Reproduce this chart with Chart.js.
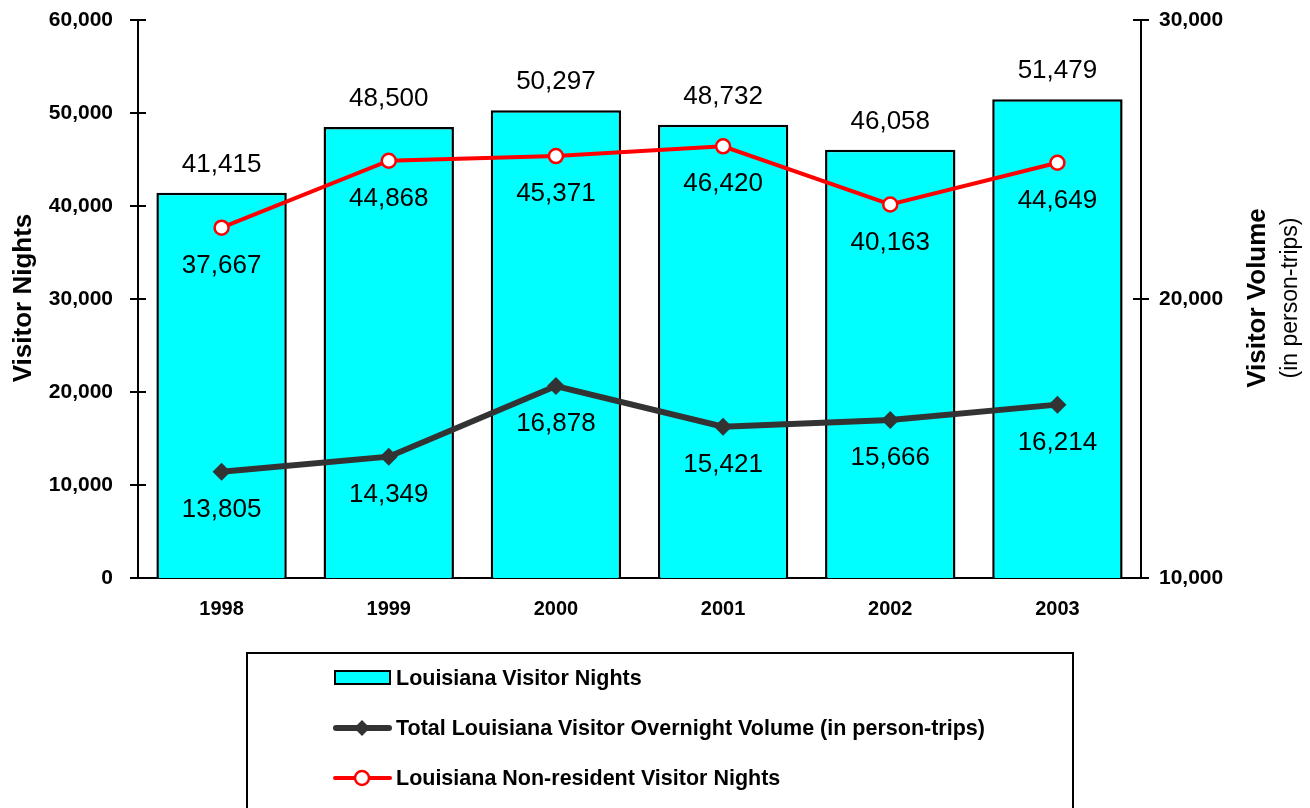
<!DOCTYPE html>
<html>
<head>
<meta charset="utf-8">
<title>Louisiana Visitor Nights</title>
<script src="https://cdn.jsdelivr.net/npm/chart.js@4/dist/chart.umd.min.js"></script>
<style>
  body { margin: 0; background: #fff; }
  canvas { display: block; }
</style>
</head>
<body>
<canvas id="myChart" width="1310" height="808"></canvas>
<script>
const years = ["1998", "1999", "2000", "2001", "2002", "2003"];
const visitorNights = [41415, 48500, 50297, 48732, 46058, 51479];
const overnightVolume = [13805, 14349, 16878, 15421, 15666, 16214];
const nonResidentNights = [37667, 44868, 45371, 46420, 40163, 44649];

const leftTicks = [0, 10000, 20000, 30000, 40000, 50000, 60000];
const rightTicks = [10000, 20000, 30000];

const legendNames = [
    "Louisiana Visitor Nights",
    "Total Louisiana Visitor Overnight Volume (in person-trips)",
    "Louisiana Non-resident Visitor Nights",
];

const FONT = "'Liberation Sans', Arial, sans-serif";
const graph = document.getElementById("myChart").getContext("2d");

function fmt(v) {
    return v.toLocaleString("en-US");
}

// tick marks that cross the axis line on both sides
const axisTicks = {
    id: "axisTicks",
    afterDraw(chart) {
        const ctx = chart.ctx;
        const area = chart.chartArea;
        ctx.save();
        ctx.strokeStyle = "#000";
        ctx.lineWidth = 2;
        [["y", area.left], ["y2", area.right]].forEach(([id, x]) => {
            const scale = chart.scales[id];
            scale.ticks.forEach((t) => {
                const y = Math.round(scale.getPixelForValue(t.value));
                ctx.beginPath();
                ctx.moveTo(x - 8, y);
                ctx.lineTo(x + 8, y);
                ctx.stroke();
            });
        });
        ctx.restore();
    },
};

// value labels on bars and line points
const valueLabels = {
    id: "valueLabels",
    afterDatasetsDraw(chart) {
        const ctx = chart.ctx;
        ctx.save();
        ctx.font = "26px " + FONT;
        ctx.fillStyle = "#000";
        ctx.textAlign = "center";
        ctx.textBaseline = "middle";
        chart.data.datasets.forEach((ds, i) => {
            const meta = chart.getDatasetMeta(i);
            meta.data.forEach((el, j) => {
                const dy = ds.type === "bar" ? -28 : 38;
                ctx.fillText(fmt(ds.data[j]), el.x, el.y + dy);
            });
        });
        ctx.restore();
    },
};

// axis titles and the boxed legend under the plot
const extras = {
    id: "extras",
    afterDraw(chart) {
        const ctx = chart.ctx;
        ctx.save();
        ctx.fillStyle = "#000";
        ctx.textAlign = "center";
        ctx.textBaseline = "middle";

        ctx.save();
        ctx.translate(24, 298);
        ctx.rotate(-Math.PI / 2);
        ctx.font = "bold 26px " + FONT;
        ctx.fillText("Visitor Nights", 0, 0);
        ctx.restore();

        ctx.save();
        ctx.translate(1258, 298);
        ctx.rotate(-Math.PI / 2);
        ctx.font = "bold 26px " + FONT;
        ctx.fillText("Visitor Volume", 0, 0);
        ctx.font = "23px " + FONT;
        ctx.fillText("(in person-trips)", 0, 33);
        ctx.restore();

        // legend frame (runs off the bottom edge)
        ctx.strokeStyle = "#000";
        ctx.lineWidth = 2;
        ctx.strokeRect(247, 653, 826, 170);

        const rows = [678, 728, 778];
        // bar swatch
        ctx.fillStyle = "#00ffff";
        ctx.fillRect(335, 671, 55, 13);
        ctx.strokeRect(335, 671, 55, 13);
        // dark line with diamond
        ctx.lineCap = "round";
        ctx.strokeStyle = "#333333";
        ctx.lineWidth = 6;
        ctx.beginPath();
        ctx.moveTo(336, rows[1]);
        ctx.lineTo(389, rows[1]);
        ctx.stroke();
        ctx.fillStyle = "#333333";
        ctx.beginPath();
        ctx.moveTo(362, rows[1] - 8);
        ctx.lineTo(370, rows[1]);
        ctx.lineTo(362, rows[1] + 8);
        ctx.lineTo(354, rows[1]);
        ctx.closePath();
        ctx.fill();
        // red line with hollow circle
        ctx.strokeStyle = "#ff0000";
        ctx.lineWidth = 4;
        ctx.beginPath();
        ctx.moveTo(335, rows[2]);
        ctx.lineTo(390, rows[2]);
        ctx.stroke();
        ctx.fillStyle = "#fff";
        ctx.lineWidth = 2.5;
        ctx.beginPath();
        ctx.arc(362, rows[2], 7, 0, Math.PI * 2);
        ctx.fill();
        ctx.stroke();

        ctx.fillStyle = "#000";
        ctx.font = "bold 21.5px " + FONT;
        ctx.textAlign = "left";
        legendNames.forEach((name, i) => {
            ctx.fillText(name, 396, rows[i] + 1);
        });
        ctx.restore();
    },
};

const tickFont = { family: FONT, size: 21, weight: "bold" };

// fixed axis sizes so the plot area sits at a known place
function fixY(width) {
    return (s) => {
        s.width = width;
        s.paddingTop = 0;
        s.paddingBottom = 0;
    };
}

const myChart = new Chart(graph, {
    type: "bar",
    data: {
        labels: years,
        datasets: [
            {
                type: "line",
                label: legendNames[2],
                data: nonResidentNights,
                yAxisID: "y",
                borderColor: "#ff0000",
                borderWidth: 4,
                pointStyle: "circle",
                pointRadius: 7,
                pointBackgroundColor: "#ffffff",
                pointBorderColor: "#ff0000",
                pointBorderWidth: 2.5,
                tension: 0,
                order: 1,
            },
            {
                type: "line",
                label: legendNames[1],
                data: overnightVolume,
                yAxisID: "y2",
                borderColor: "#333333",
                borderWidth: 6,
                pointStyle: "rectRot",
                pointRadius: 9,
                pointBackgroundColor: "#333333",
                pointBorderWidth: 0,
                tension: 0,
                order: 2,
            },
            {
                type: "bar",
                label: legendNames[0],
                data: visitorNights,
                yAxisID: "y",
                backgroundColor: "#00ffff",
                borderColor: "#000000",
                borderWidth: 2.5,
                barPercentage: 0.78,
                categoryPercentage: 1,
                order: 3,
            },
        ],
    },
    options: {
        responsive: false,
        animation: false,
        layout: { padding: { top: 20, left: 0, right: 0, bottom: 0 } },
        plugins: {
            legend: { display: false },
            tooltip: { enabled: false },
        },
        scales: {
            x: {
                offset: true,
                grid: { display: false, drawTicks: false },
                border: { display: true, color: "#000", width: 2 },
                ticks: { font: { family: FONT, size: 20, weight: "bold" }, color: "#000", padding: 19 },
                afterFit(s) {
                    s.height = 230;
                    s.paddingLeft = 0;
                    s.paddingRight = 0;
                },
            },
            y: {
                position: "left",
                min: 0,
                max: 60000,
                afterBuildTicks(s) { s.ticks = leftTicks.map((v) => ({ value: v })); },
                grid: { display: false, drawTicks: false },
                border: { display: true, color: "#000", width: 2 },
                ticks: { font: tickFont, color: "#000", padding: 25, callback: (v) => fmt(v) },
                afterFit: fixY(138),
            },
            y2: {
                position: "right",
                min: 10000,
                max: 30000,
                afterBuildTicks(s) { s.ticks = rightTicks.map((v) => ({ value: v })); },
                grid: { display: false, drawTicks: false },
                border: { display: true, color: "#000", width: 2 },
                ticks: { font: tickFont, color: "#000", padding: 18, callback: (v) => fmt(v) },
                afterFit: fixY(169),
            },
        },
    },
    plugins: [axisTicks, valueLabels, extras],
});
</script>
</body>
</html>
